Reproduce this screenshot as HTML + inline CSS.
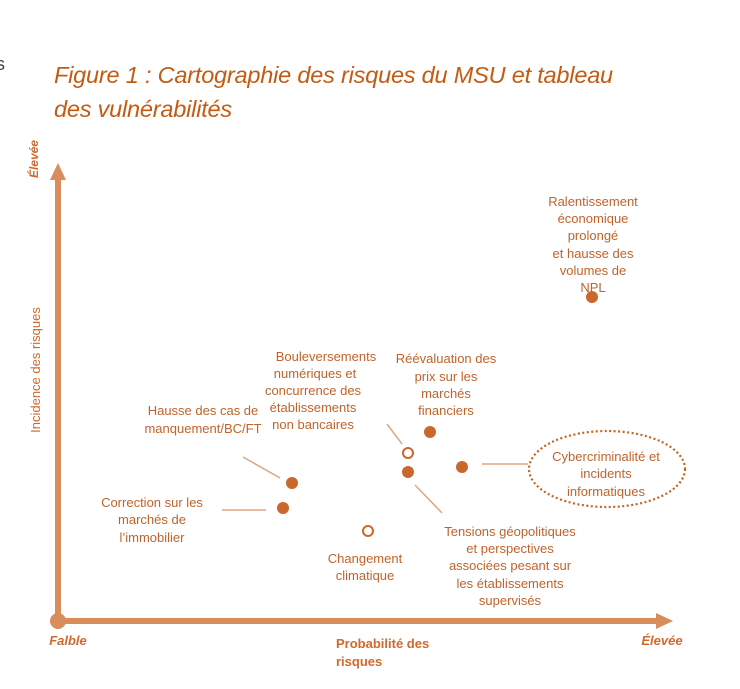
<!DOCTYPE html>
<html><head><meta charset="utf-8"><style>
body{margin:0;background:#fff;width:740px;height:689px;overflow:hidden;position:relative;font-family:"Liberation Sans",Arial,sans-serif}
.t{position:absolute;left:54px;top:58px;color:#c55a11;font-style:italic;font-size:23.5px;line-height:34px;letter-spacing:-0.2px}
svg{position:absolute;left:0;top:0}
</style></head><body>
<div style="position:absolute;left:-4px;top:54px;font-size:18px;color:#444">s</div>
<div class="t">Figure 1 : Cartographie des risques du MSU et tableau<br>des vulnérabilités</div>
<svg width="740" height="689" font-family="Liberation Sans, Arial, sans-serif">
<g fill="#d98c5c" stroke="none">
<rect x="55" y="178" width="6" height="443"/>
<polygon points="50,180 66,180 58,163"/>
<rect x="58" y="618" width="602" height="6"/>
<polygon points="656,613 656,629 673,621"/>
<circle cx="58" cy="621" r="8"/>
</g>
<g fill="#d0692d" font-size="13" text-anchor="middle">
<text x="38" y="140" transform="rotate(-90 38 140)" font-style="italic" font-weight="bold" font-size="12" text-anchor="end">Élevée</text>
<text x="40" y="370" transform="rotate(-90 40 370)" font-size="13">Incidence des risques</text>
<text x="68" y="645" font-style="italic" font-weight="bold" text-anchor="middle">Falble</text>
<text x="662" y="645" font-style="italic" font-weight="bold">Élevée</text>
<text x="336" y="648" font-weight="bold" font-size="13" text-anchor="start">Probabilité des</text>
<text x="336" y="666" font-weight="bold" font-size="13" text-anchor="start">risques</text>
<g font-size="13" fill="#c0632a">
<text x="593" y="206">Ralentissement</text>
<text x="593" y="223">économique</text>
<text x="593" y="240">prolongé</text>
<text x="593" y="258">et hausse des</text>
<text x="593" y="275">volumes de</text>
<text x="593" y="292">NPL</text>
<text x="326" y="361">Bouleversements</text>
<text x="315" y="378">numériques et</text>
<text x="313" y="395">concurrence des</text>
<text x="313" y="412">établissements</text>
<text x="313" y="429">non bancaires</text>
<text x="446" y="363">Réévaluation des</text>
<text x="446" y="381">prix sur les</text>
<text x="446" y="398">marchés</text>
<text x="446" y="415">financiers</text>
<text x="203" y="415">Hausse des cas de</text>
<text x="203" y="433">manquement/BC/FT</text>
<text x="152" y="507">Correction sur les</text>
<text x="152" y="524">marchés de</text>
<text x="152" y="542">l’immobilier</text>
<text x="365" y="563">Changement</text>
<text x="365" y="580">climatique</text>
<text x="510" y="536">Tensions géopolitiques</text>
<text x="510" y="553">et perspectives</text>
<text x="510" y="570">associées pesant sur</text>
<text x="510" y="588">les établissements</text>
<text x="510" y="605">supervisés</text>
<text x="606" y="461">Cybercriminalité et</text>
<text x="606" y="478">incidents</text>
<text x="606" y="496">informatiques</text>
</g>
</g>
<g stroke="#e0a582" stroke-width="1.5">
<line x1="243" y1="457" x2="280" y2="478"/>
<line x1="222" y1="510" x2="266" y2="510"/>
<line x1="402" y1="444" x2="387" y2="424"/>
<line x1="415" y1="485" x2="442" y2="513"/>
<line x1="482" y1="464" x2="528" y2="464"/>
</g>
<ellipse cx="607" cy="469" rx="78" ry="38" fill="none" stroke="#c5631f" stroke-width="2.2" stroke-dasharray="2 2.5"/>
<g fill="#c9672c">
<circle cx="592" cy="297" r="6"/>
<circle cx="430" cy="432" r="6"/>
<circle cx="408" cy="472" r="6"/>
<circle cx="462" cy="467" r="6"/>
<circle cx="292" cy="483" r="6"/>
<circle cx="283" cy="508" r="6"/>
</g>
<g fill="#fff" stroke="#c9672c" stroke-width="2">
<circle cx="408" cy="453" r="5"/>
<circle cx="368" cy="531" r="5"/>
</g>
</svg>
</body></html>
